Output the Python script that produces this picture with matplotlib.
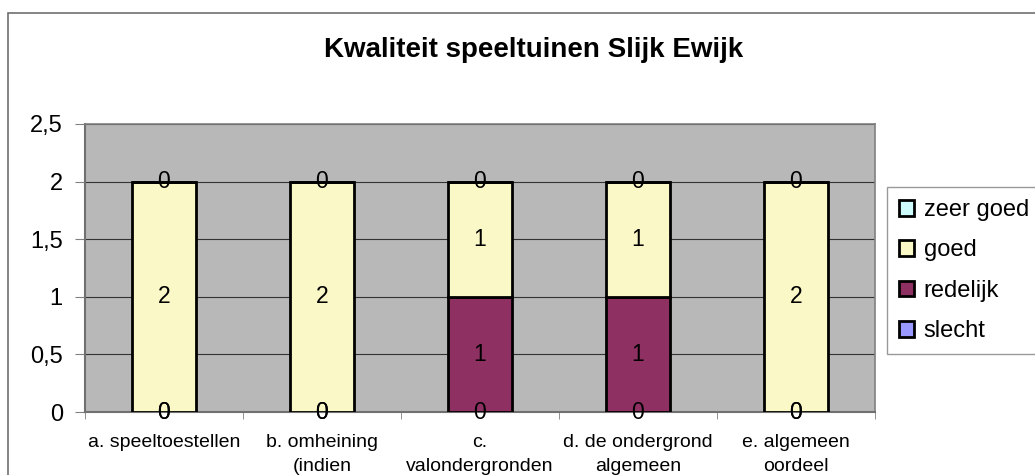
import numpy as np
import matplotlib.pyplot as plt
from matplotlib.patches import Rectangle

plt.rcParams['font.family'] = ['Liberation Sans', 'DejaVu Sans']

categories = ['a. speeltoestellen', 'b. omheining\n(indien', 'c.\nvalondergronden',
              'd. de ondergrond\nalgemeen', 'e. algemeen\noordeel']
slecht = [0, 0, 0, 0, 0]
redelijk = [0, 0, 1, 1, 0]
goed = [2, 2, 1, 1, 2]
zeer_goed = [0, 0, 0, 0, 0]
y_ticks = [0, 0.5, 1, 1.5, 2, 2.5]
y_labels = ['0', '0,5', '1', '1,5', '2', '2,5']

series = [('slecht', slecht, '#9999ff'),
          ('redelijk', redelijk, '#8f3062'),
          ('goed', goed, '#fbf8c8'),
          ('zeer goed', zeer_goed, '#cdfbfb')]

fig = plt.figure(figsize=(10.35, 4.75), dpi=100)
ax = fig.add_axes([0.0821, 0.1326, 0.7633, 0.6064])

x = np.arange(len(categories))
bottom = np.zeros(len(categories))
handles = []
for name, vals, color in series:
    vals = np.array(vals, dtype=float)
    bars = ax.bar(x, vals, width=0.405, bottom=bottom, color=color, edgecolor='black',
                  linewidth=2, zorder=3, label=name)
    handles.append(bars)
    for xi, b, v in zip(x, bottom, vals):
        ax.text(xi, b + v / 2, '%g' % v, ha='center', va='center', fontsize=16.5, zorder=4)
    bottom += vals

ax.set_facecolor('#b8b8b8')
ax.set_xlim(-0.5, len(categories) - 0.5)
ax.set_ylim(0, 2.5)
ax.set_yticks(y_ticks)
ax.set_yticklabels(y_labels, fontsize=17)
ax.yaxis.grid(True, color='#333333', linewidth=0.8, zorder=1)
ax.set_axisbelow(True)

ax.set_xticks(x)
ax.set_xticklabels(categories, fontsize=14, va='top')
for t in ax.get_xticklabels():
    t.set_linespacing(1.5)
ax.tick_params(axis='x', length=0, pad=16)
ax.set_xticks(np.arange(-0.5, len(categories)), minor=True)
ax.tick_params(axis='x', which='minor', length=5, color='#808080')
ax.tick_params(axis='y', length=7, color='#808080', pad=9)

for side in ['top', 'right']:
    ax.spines[side].set_color('#808080')
    ax.spines[side].set_linewidth(1.2)
for side in ['left', 'bottom']:
    ax.spines[side].set_color('#707070')
    ax.spines[side].set_linewidth(1.5)

fig.text(0.516, 0.895, 'Kwaliteit speeltuinen Slijk Ewijk', ha='center', va='center',
         fontsize=20, fontweight='bold')

leg = fig.legend(handles[::-1], [s[0] for s in series][::-1], loc='upper left',
                 bbox_to_anchor=(0.857, 0.606), fontsize=17, frameon=True, fancybox=False,
                 edgecolor='#808080', handlelength=0.65, handleheight=0.65, handletextpad=0.4,
                 labelspacing=0.78, borderpad=0.5, borderaxespad=0)
leg.get_frame().set_linewidth(1)

fig.patches.append(Rectangle((0.008, -0.1), 1.1, 1.072, transform=fig.transFigure,
                             fill=False, edgecolor='#707070', linewidth=1.2))

fig.savefig('out.png', dpi=100)
